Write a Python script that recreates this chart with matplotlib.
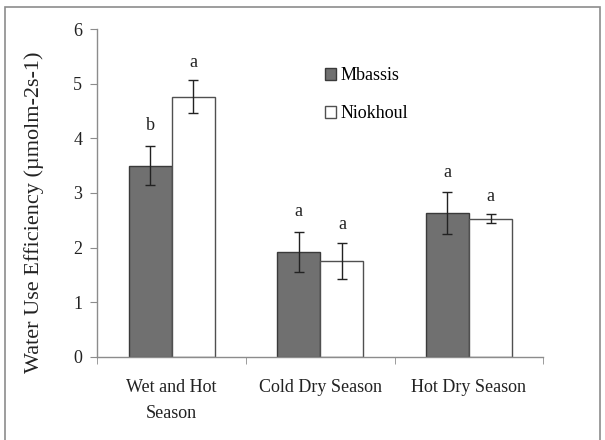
import numpy as np
import matplotlib
matplotlib.use("Agg")
import matplotlib.pyplot as plt
from matplotlib.patches import Rectangle

plt.rcParams['font.family'] = ['Liberation Serif', 'DejaVu Serif']

seasons = ["Wet and Hot\nSeason", "Cold Dry Season", "Hot Dry Season"]
mbassis = [3.50, 1.92, 2.63]
mbassis_err = [0.36, 0.37, 0.38]
niokhoul = [4.76, 1.76, 2.53]
niokhoul_err = [0.30, 0.33, 0.08]
mbassis_letters = ["b", "a", "a"]
niokhoul_letters = ["a", "a", "a"]

txt = '#222222'
grid_grey = '#8c8c8c'

fig = plt.figure(figsize=(6.05, 4.4), dpi=100)
# chart area frame, runs off the bottom edge
fig.patches.append(Rectangle((5 / 605, -10 / 440), 595 / 605, 443 / 440,
                             transform=fig.transFigure, fill=False,
                             edgecolor=grid_grey, linewidth=1.2))
ax = fig.add_axes([0.161, 0.189, 0.737, 0.745])

x = np.arange(len(seasons))
w = 0.29
ax.bar(x - w / 2, mbassis, w, color='#707070', edgecolor='#3a3a3a',
       linewidth=1.0, label='Mbassis', zorder=2)
ax.bar(x + w / 2, niokhoul, w, color='white', edgecolor='#505050',
       linewidth=1.0, label='Niokhoul', zorder=2)
ax.errorbar(x - w / 2, mbassis, yerr=mbassis_err, fmt='none', ecolor=txt,
            elinewidth=1.0, capsize=3.3, capthick=1.0, zorder=3)
ax.errorbar(x + w / 2, niokhoul, yerr=niokhoul_err, fmt='none', ecolor=txt,
            elinewidth=1.0, capsize=3.3, capthick=1.0, zorder=3)

for xi, v, e, t in zip(x - w / 2, mbassis, mbassis_err, mbassis_letters):
    ax.text(xi, v + e + 0.37, t, ha='center', va='center', fontsize=13, color=txt)
for xi, v, e, t in zip(x + w / 2, niokhoul, niokhoul_err, niokhoul_letters):
    ax.text(xi, v + e + 0.33, t, ha='center', va='center', fontsize=13, color=txt)

ax.set_xlim(-0.5, 2.5)
ax.set_ylim(0, 6)
ax.set_yticks(range(0, 7))
ax.set_xticks(x)
ax.set_xticklabels(seasons, fontsize=13, color=txt, linespacing=1.65)
ax.tick_params(axis='x', length=0, pad=16)
ax.set_xticks([-0.5, 0.5, 1.5, 2.5], minor=True)
ax.tick_params(axis='x', which='minor', length=5, color=grid_grey, direction='out')
ax.tick_params(axis='y', length=5, color=grid_grey, direction='out',
               labelsize=13, labelcolor=txt, pad=6)
for s in ['top', 'right']:
    ax.spines[s].set_visible(False)
for s in ['left', 'bottom']:
    ax.spines[s].set_color(grid_grey)
    ax.spines[s].set_linewidth(1.0)

ax.set_ylabel('Water Use Efficiency (µmolm-2s-1)', fontsize=16, color=txt)
ax.yaxis.set_label_coords(-0.12, 0.442)

ax.legend(loc='upper left', bbox_to_anchor=(0.495, 0.905), frameon=False,
          fontsize=13, handlelength=0.6, handleheight=0.6,
          handletextpad=0.25, labelspacing=1.15, borderaxespad=0)

fig.savefig('out.png', dpi=100)
